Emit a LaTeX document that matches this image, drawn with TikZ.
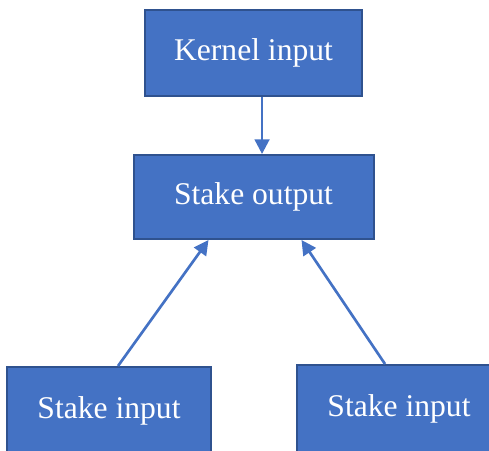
\documentclass[tikz,border=0pt]{standalone}
\usepackage{fontspec}
\setmainfont{Liberation Serif}
\usetikzlibrary{
  arrows.meta, % for the Triangle arrow tip
  positioning, % for relative placement of the boxes
}
\definecolor{boxfill}{HTML}{4472C4}
\definecolor{boxline}{HTML}{2F528F}
\tikzset{
  block/.style={ % style for each box
    rectangle,draw=boxline,fill=boxfill, % blue box with darker edge
    line width=1.5pt,
    text=white,font=\fontsize{23.7}{28}\selectfont,
    inner sep=0pt,
  },
  conn/.style={ % style for the connections
    -{Triangle[length=11pt,width=11pt]},
    draw=boxfill,line width=2pt,
  },
}

\begin{document}
\begin{tikzpicture}[x=0.75pt,y=-0.75pt]

	\clip (0,0) rectangle (489,450);

	\node[block,minimum width=162.75pt,minimum height=64.5pt] at (253.5,53) (kernel) {Kernel input};
	\node[block,minimum width=180pt,minimum height=63pt,below=42.75pt of kernel] (out) {Stake output};

	\node[block,minimum width=153pt,minimum height=66pt] at (109,411) (inl) {Stake input};
	\node[block,minimum width=153pt,minimum height=66pt] at (399,409) (inr) {Stake input};

	\draw[conn] ([xshift=6.4pt]kernel.south) -- ([xshift=6.4pt]out.north);

	\draw[conn] ([xshift=6.75pt]inl.north) -- ([xshift=-33.75pt]out.south);
	\draw[conn] ([xshift=-10.5pt]inr.north) -- ([xshift=36pt]out.south);

\end{tikzpicture}
\end{document}
